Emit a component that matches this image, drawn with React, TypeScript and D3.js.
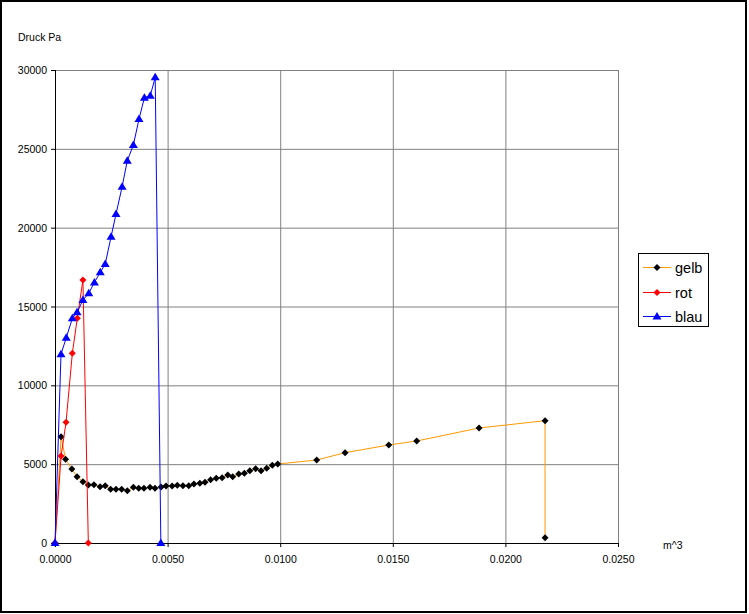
import React from "react";
import * as d3 from "d3";

const gelbX = [0, 0.00027, 0.00047, 0.00075, 0.00098, 0.00124, 0.00148, 0.00173, 0.002, 0.00223, 0.00247, 0.00271, 0.00296, 0.00321, 0.00348, 0.00372, 0.00395, 0.00422, 0.00444, 0.00471, 0.00493, 0.0052, 0.00543, 0.00568, 0.00594, 0.00617, 0.00643, 0.00666, 0.00691, 0.00716, 0.00742, 0.00767, 0.00789, 0.00816, 0.00841, 0.00865, 0.00891, 0.00915, 0.0094, 0.00965, 0.00989, 0.01162, 0.01288, 0.01482, 0.01606, 0.01883, 0.02176, 0.02176];
const gelbY = [0, 6743, 5308, 4693, 4205, 3888, 3678, 3699, 3572, 3636, 3403, 3403, 3403, 3318, 3530, 3466, 3466, 3530, 3466, 3551, 3615, 3615, 3657, 3636, 3636, 3742, 3784, 3848, 4016, 4101, 4143, 4313, 4207, 4376, 4419, 4587, 4714, 4587, 4736, 4926, 5010, 5264, 5727, 6215, 6469, 7293, 7757, 338];

const rotX = [0, 0.00027, 0.00049, 0.00077, 0.00099, 0.00124, 0.00148];
const rotY = [0, 5518, 7655, 12031, 14250, 16680, 0];

const blauX = [0, 0.000266, 0.0005, 0.00077, 0.00098, 0.00124, 0.0015, 0.00175, 0.00201, 0.00223, 0.00249, 0.00271, 0.00298, 0.00321, 0.00348, 0.00373, 0.00397, 0.00423, 0.00445, 0.0047];
const blauY = [0, 11967, 13020, 14250, 14630, 15410, 15836, 16530, 17170, 17694, 19426, 20865, 22597, 24246, 25241, 26890, 28241, 28368, 29534, 0];

const xTicks = [0, 0.005, 0.01, 0.015, 0.02, 0.025];
const yTicks = [0, 5000, 10000, 15000, 20000, 25000, 30000];
const seriesNames = ["gelb", "rot", "blau"];

const W = 749;
const H = 614;
const font = "'Liberation Sans', Arial, sans-serif";

const diamond = (r: number) => `M0,${-r}L${r},0L0,${r}L${-r},0Z`;
const triangle = "M0,-4.5L4.5,3L-4.5,3Z";

export default function App() {
  const x = d3.scaleLinear().domain([0, 0.025]).range([55, 618]);
  const y = d3.scaleLinear().domain([0, 30000]).range([543, 70]);

  const pts = (xs: number[], ys: number[]) => xs.map((v, i) => [v, ys[i]] as [number, number]);
  const line = d3
    .line<[number, number]>()
    .x((d) => x(d[0]))
    .y((d) => y(d[1]));

  const gelb = pts(gelbX, gelbY);
  const rot = pts(rotX, rotY);
  const blau = pts(blauX, blauY);

  const legendItems = [
    { name: seriesNames[0], line: "#FF9900", fill: "#000000", shape: diamond(3.5) },
    { name: seriesNames[1], line: "#FF0000", fill: "#FF0000", shape: diamond(3.5) },
    { name: seriesNames[2], line: "#0000FF", fill: "#0000FF", shape: triangle },
  ];
  const legendY = [267, 292, 316];

  return (
    <svg
      width={W}
      height={H}
      style={{ position: "absolute", left: 0, top: 0, display: "block", background: "#fff" }}
      fontFamily={font}
    >
      <rect x={0} y={0} width={W} height={H} fill="#fff" />
      <rect x={1} y={1} width={745} height={611} fill="none" stroke="#000" strokeWidth={2} />

      {/* grid */}
      {yTicks.map((t) => (
        <line key={"gy" + t} x1={55} x2={618} y1={y(t) + 0.5} y2={y(t) + 0.5} stroke="#808080" strokeWidth={1} />
      ))}
      {xTicks.map((t) => (
        <line key={"gx" + t} x1={x(t) + 0.5} x2={x(t) + 0.5} y1={70} y2={543} stroke="#808080" strokeWidth={1} />
      ))}

      {/* axes */}
      <line x1={55.5} x2={55.5} y1={70} y2={543.5} stroke="#000" strokeWidth={1} />
      <line x1={55} x2={618.5} y1={543.5} y2={543.5} stroke="#000" strokeWidth={1} />
      {yTicks.map((t) => (
        <line key={"ty" + t} x1={51} x2={55} y1={y(t) + 0.5} y2={y(t) + 0.5} stroke="#000" />
      ))}
      {xTicks.map((t) => (
        <line key={"tx" + t} x1={x(t) + 0.5} x2={x(t) + 0.5} y1={543} y2={547} stroke="#000" />
      ))}
      {yTicks.map((t) => (
        <text key={"ly" + t} x={47} y={y(t) + 4} fontSize={10.5} textAnchor="end" fill="#000">
          {t}
        </text>
      ))}
      {xTicks.map((t) => (
        <text key={"lx" + t} x={x(t) + 0.5} y={563} fontSize={10.5} textAnchor="middle" fill="#000">
          {t.toFixed(4)}
        </text>
      ))}
      <text x={18} y={41} fontSize={10.5} fill="#000">Druck Pa</text>
      <text x={663} y={549} fontSize={10.5} fill="#000">m^3</text>

      {/* series */}
      <path d={line(gelb) || ""} fill="none" stroke="#FF9900" strokeWidth={1} />
      {gelb.map((d, i) => (
        <path key={"g" + i} d={diamond(3.5)} transform={`translate(${x(d[0])},${y(d[1])})`} fill="#000" />
      ))}
      <path d={line(rot) || ""} fill="none" stroke="#FF0000" strokeWidth={1} />
      {rot.map((d, i) => (
        <path key={"r" + i} d={diamond(3.5)} transform={`translate(${x(d[0])},${y(d[1])})`} fill="#FF0000" />
      ))}
      <path d={line(blau) || ""} fill="none" stroke="#0000FF" strokeWidth={1} />
      {blau.map((d, i) => (
        <path key={"b" + i} d={triangle} transform={`translate(${x(d[0])},${y(d[1])})`} fill="#0000FF" />
      ))}

      {/* legend */}
      <rect x={638.5} y={253.5} width={70} height={73} fill="#fff" stroke="#000" strokeWidth={1} />
      {legendItems.map((it, i) => (
        <g key={it.name}>
          <line x1={643} x2={671} y1={legendY[i] + 0.5} y2={legendY[i] + 0.5} stroke={it.line} strokeWidth={1} />
          <path d={it.shape} transform={`translate(657,${legendY[i] + 0.5})`} fill={it.fill} />
          <text x={675} y={legendY[i] + 5.5} fontSize={14.5} fill="#000">
            {it.name}
          </text>
        </g>
      ))}
    </svg>
  );
}
